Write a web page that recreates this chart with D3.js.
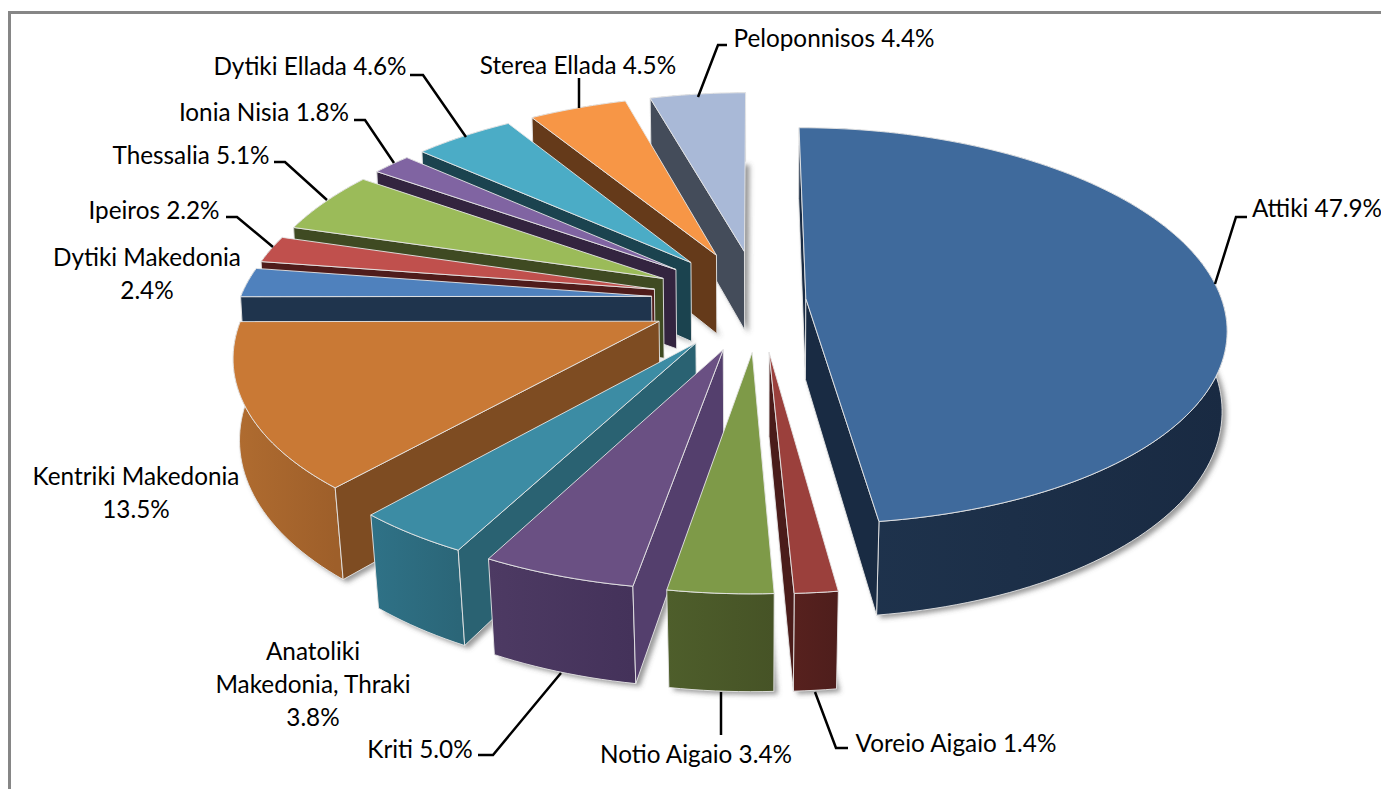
<!DOCTYPE html>
<html>
<head>
<meta charset="utf-8">
<script src="https://cdn.jsdelivr.net/npm/d3@7"></script>
<style>
  html, body { margin: 0; padding: 0; background: #fff; overflow: hidden; }
  svg { display: block; }
  .label { font-family: Lato, "Open Sans", sans-serif; font-size: 24.3px; fill: #000; }
</style>
</head>
<body>
<svg id="chart" width="1381" height="789"></svg>
<script>
const regions = ['Attiki', 'Voreio Aigaio', 'Notio Aigaio', 'Kriti', 'Anatoliki Makedonia, Thraki',
    'Kentriki Makedonia', 'Dytiki Makedonia', 'Ipeiros', 'Thessalia', 'Ionia Nisia',
    'Dytiki Ellada', 'Sterea Ellada', 'Peloponnisos'];
const shares = [47.9, 1.4, 3.4, 5.0, 3.8, 13.5, 2.4, 2.2, 5.1, 1.8, 4.6, 4.5, 4.4];

// how far each slice is pulled out of the pie
const explode = [47, 108, 108, 108, 108, 108, 108, 108, 108, 108, 108, 108, 108];
const radius = [416, 412, 412, 412, 412, 412, 412, 412, 412, 412, 412, 412, 412];

const topColors = ['#3f6a9c', '#9b403c', '#7e9a48', '#6a5083', '#3c8ca4', '#c97935', '#4f81bd',
    '#c0504d', '#9bbb59', '#8064a2', '#4bacc6', '#f79646', '#a9b9d7'];
const wallColors = ['#192b43', '#4a1c1a', '#4c5a2a', '#543f6d', '#2a6272', '#7e4c22', '#1f344d',
    '#4f1c1b', '#3f4a22', '#33243f', '#1b434f', '#653a1a', '#444c5a'];
const rimLeft = ['#1f344e', '#57211e', '#4e5e2b', '#4d3a63', '#2f7287', '#b06c30', '#1f344d',
    '#4f1c1b', '#3f4a22', '#33243f', '#1b434f', '#653a1a', '#444c5a'];
const rimRight = ['#192a42', '#4e1e1c', '#465326', '#44325a', '#2b6678', '#9e5f2a', '#1f344d',
    '#4f1c1b', '#3f4a22', '#33243f', '#1b434f', '#653a1a', '#444c5a'];

// label lines per slice, the percentage is added from shares
const labelBreaks = [
    [''], [''], [''], [''],
    ['Anatoliki', 'Makedonia, Thraki'],
    ['Kentriki Makedonia'],
    ['Dytiki Makedonia'],
    [''], [''], [''], [''], [''], ['']
];

// label centre positions and leader elbows
const labelLayout = [
    { x: 1317, y: 208, leader: [[1215, 284], [1236, 217], [1247, 217]] },
    { x: 956, y: 743, leader: [[815, 692], [836, 748], [848, 748]] },
    { x: 696, y: 754, leader: [[721, 692], [721, 735]] },
    { x: 420, y: 749, leader: [[561, 673], [493, 755], [478, 755]] },
    { x: 313, y: 651 },
    { x: 136, y: 476 },
    { x: 147, y: 257 },
    { x: 154, y: 210, leader: [[273, 247], [237, 217], [226, 217]] },
    { x: 191, y: 155, leader: [[327, 200], [285, 162], [274, 162]] },
    { x: 264, y: 112, leader: [[394, 163], [365, 120], [354, 120]] },
    { x: 310, y: 66, leader: [[466, 137], [423, 75], [410, 75]] },
    { x: 578, y: 65, leader: [[579, 108], [579, 78]] },
    { x: 834, y: 38, leader: [[698, 97], [718, 45], [727, 45]] }
];

const width = 1381, height = 789;
const cx = 759, cy = 300;      // pie centre on screen
const tilt = 0.468;            // vertical squash of the disc
const perspY = 3020, perspX = 2800;  // camera distance for the foreshortening
const depth = 81;              // pie thickness at the centre
const rotation = -0.002;

const svg = d3.select('#chart');
const defs = svg.append('defs');

const blur = defs.append('filter').attr('id', 'soft-shadow')
    .attr('filterUnits', 'userSpaceOnUse')
    .attr('x', 0).attr('y', 0).attr('width', width).attr('height', height);
blur.append('feGaussianBlur').attr('stdDeviation', 2.5);

// chart frame, runs off the right and bottom of the picture
svg.append('path')
    .attr('d', d3.line()([[9.5, height + 5], [9.5, 12.5], [width + 5, 12.5]]))
    .attr('fill', 'none')
    .attr('stroke', '#868686')
    .attr('stroke-width', 3);

const pie = d3.pie().sort(null)
    .value(d => d)
    .startAngle(rotation)
    .endAngle(2 * Math.PI + rotation);
const arcs = pie(shares);

function project(u, v, z) {
    const sx = 1 / (1 - v / perspX);
    const sy = 1 / (1 - v / perspY);
    // bottom face is a bit narrower, more so towards the viewer
    const taper = 0.009 + 0.011 * Math.max(0, v) / 400;
    return [cx + u * sx * (1 - z * taper), cy + tilt * v * sy + z * depth * sy];
}

const line = d3.line();
const closed = pts => line(pts) + 'Z';

// back slices first, front ones paint over their walls
const drawOrder = d3.range(arcs.length).sort((a, b) => {
    const ma = (arcs[a].startAngle + arcs[a].endAngle) / 2;
    const mb = (arcs[b].startAngle + arcs[b].endAngle) / 2;
    return -Math.cos(ma) - -Math.cos(mb);
});

// the shadow comes from the bottom faces only
const shadowGroup = svg.append('g')
    .attr('filter', 'url(#soft-shadow)')
    .append('g')
    .attr('transform', 'translate(4,3)')
    .attr('fill', '#555')
    .attr('opacity', 0.6);
const pieGroup = svg.append('g');

drawOrder.forEach(i => {
    const a = arcs[i];
    const mid = (a.startAngle + a.endAngle) / 2;
    const u0 = explode[i] * Math.sin(mid);
    const v0 = -explode[i] * Math.cos(mid);
    const r = radius[i];

    const steps = Math.max(2, Math.ceil((a.endAngle - a.startAngle) * 40));
    const angle = d3.scaleLinear().domain([0, steps]).range([a.startAngle, a.endAngle]);
    const rim = d3.range(steps + 1).map(k => [u0 + r * Math.sin(angle(k)), v0 - r * Math.cos(angle(k))]);

    const topRim = rim.map(p => project(p[0], p[1], 0));
    const botRim = rim.map(p => project(p[0], p[1], 1));
    const apexTop = project(u0, v0, 0);
    const apexBot = project(u0, v0, 1);
    const last = rim.length - 1;

    shadowGroup.append('path').attr('d', closed([apexBot].concat(botRim)));

    const g = pieGroup.append('g').attr('class', 'slice');
    const edge = sel => sel.attr('stroke', '#e6e6e6').attr('stroke-width', 0.9).attr('stroke-linejoin', 'round');

    // outer wall, with a faint left to right shading
    const gradId = 'rim-' + i;
    const xs = topRim.map(p => p[0]);
    const grad = defs.append('linearGradient').attr('id', gradId)
        .attr('gradientUnits', 'userSpaceOnUse')
        .attr('x1', d3.min(xs)).attr('x2', d3.max(xs))
        .attr('y1', 0).attr('y2', 0);
    grad.append('stop').attr('offset', 0).attr('stop-color', rimLeft[i]);
    grad.append('stop').attr('offset', 1).attr('stop-color', rimRight[i]);
    g.append('path').attr('d', closed(topRim.concat(botRim.slice().reverse())))
        .attr('fill', `url(#${gradId})`).call(edge);

    // radial walls, only the ones turned towards the viewer
    if (Math.sin(a.startAngle) < 0.02) {
        g.append('path').attr('d', closed([apexTop, topRim[0], botRim[0], apexBot]))
            .attr('fill', wallColors[i]).call(edge);
    }
    if (Math.sin(a.endAngle) > 0) {
        g.append('path').attr('d', closed([apexTop, topRim[last], botRim[last], apexBot]))
            .attr('fill', wallColors[i]).call(edge);
    }

    // top face
    g.append('path').attr('d', closed([apexTop].concat(topRim)))
        .attr('fill', topColors[i]).call(edge);
});

// leader lines
const leaders = labelLayout.filter(d => d.leader);
svg.append('g').selectAll('path')
    .data(leaders)
    .join('path')
    .attr('d', d => line(d.leader))
    .attr('fill', 'none')
    .attr('stroke', '#000')
    .attr('stroke-width', 2.5);

// labels
const labelLines = i => {
    const pct = shares[i].toFixed(1) + '%';
    if (labelBreaks[i][0] === '') return [regions[i] + ' ' + pct];
    return labelBreaks[i].concat(pct);
};
const labels = svg.append('g').selectAll('text')
    .data(labelLayout)
    .join('text')
    .attr('class', 'label')
    .attr('text-anchor', 'middle');
labels.selectAll('tspan')
    .data((d, i) => labelLines(i).map((t, n) => ({ t, x: d.x, y: d.y + n * 33 })))
    .join('tspan')
    .attr('x', d => d.x)
    .attr('y', d => d.y)
    .attr('dy', '0.35em')
    .text(d => d.t);
</script>
</body>
</html>
